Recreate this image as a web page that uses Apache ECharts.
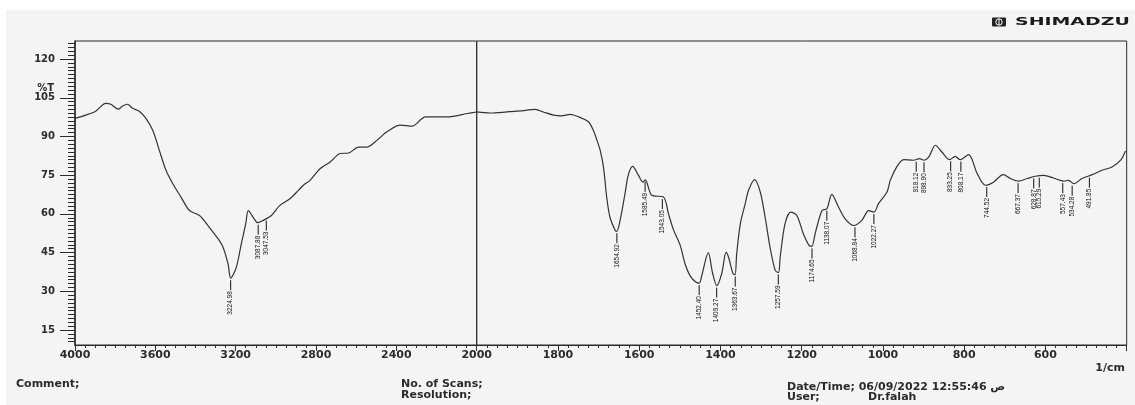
<!DOCTYPE html>
<html>
<head>
<meta charset="utf-8">
<script src="https://cdn.jsdelivr.net/npm/echarts@6/dist/echarts.min.js"></script>
<style>
html, body { margin: 0; padding: 0; background: #fff; }
#main { width: 1135px; height: 405px; }
</style>
</head>
<body>
<div id="main"></div>
<script>
// 4000-2000 1/cm (left half of the chart)
var leftSpectrum = [
    [4000, 97.0], [3947, 98.3], [3897, 99.8], [3847, 102.8], [3822, 102.5], [3785, 100.6],
    [3763, 101.8], [3739, 102.5], [3713, 100.9], [3680, 99.8], [3647, 97.0], [3613, 92.4],
    [3580, 84.6], [3547, 76.9], [3513, 71.7], [3472, 66.5], [3430, 61.3], [3380, 59.4],
    [3338, 55.5], [3288, 50.4], [3263, 47.1], [3238, 40.6], [3225, 35.1], [3197, 39.3],
    [3172, 48.4], [3150, 56.2], [3137, 61.3], [3113, 58.7], [3090, 56.6], [3063, 57.5],
    [3022, 59.4], [2980, 63.3], [2930, 65.9], [2888, 69.1], [2863, 71.1], [2830, 73.0],
    [2780, 77.5], [2730, 80.1], [2680, 83.4], [2638, 83.6], [2588, 85.9], [2547, 85.9],
    [2497, 88.5], [2447, 91.8], [2380, 94.4], [2322, 94.0], [2255, 97.6], [2147, 97.6],
    [2047, 98.9], [2000, 99.5]
];
// 2000-400 1/cm (right half, double scale)
var rightSpectrum = [
    [2000, 99.5], [1967, 99.1], [1926, 99.5], [1893, 99.9], [1856, 100.5], [1836, 99.5],
    [1811, 98.3], [1791, 98.0], [1770, 98.6], [1746, 97.4], [1725, 95.7], [1713, 92.4],
    [1704, 88.5], [1696, 84.6], [1688, 78.2], [1680, 66.5], [1672, 58.7], [1659, 53.6],
    [1655, 53.2], [1647, 57.5], [1635, 67.8], [1627, 75.0], [1616, 78.4], [1602, 75.0],
    [1591, 72.3], [1585, 73.2], [1569, 67.2], [1540, 66.5], [1528, 60.1], [1516, 54.0],
    [1499, 47.8], [1487, 40.6], [1475, 36.1], [1460, 33.5], [1452, 33.2], [1446, 36.1],
    [1430, 45.0], [1419, 36.8], [1409, 32.2], [1397, 36.8], [1386, 45.1], [1380, 43.2],
    [1369, 36.8], [1364, 36.5], [1360, 44.5], [1351, 56.2], [1339, 64.0], [1331, 69.1],
    [1316, 73.3], [1302, 68.5], [1290, 58.7], [1278, 47.1], [1265, 38.0], [1257, 37.3],
    [1253, 43.2], [1241, 56.2], [1227, 60.7], [1212, 59.4], [1196, 52.3], [1182, 47.8],
    [1175, 47.4], [1167, 52.3], [1150, 61.3], [1138, 62.0], [1126, 67.6], [1109, 62.6],
    [1093, 58.1], [1072, 55.5], [1052, 57.5], [1035, 61.3], [1022, 60.7], [1011, 64.0],
    [990, 68.5], [982, 73.0], [966, 78.2], [949, 81.0], [925, 80.8], [910, 81.4],
    [899, 80.8], [887, 82.1], [871, 86.6], [855, 84.0], [836, 81.0], [822, 82.3],
    [810, 81.0], [789, 83.0], [768, 75.6], [748, 71.1], [728, 72.3], [704, 75.2],
    [686, 73.7], [666, 72.7], [645, 73.7], [625, 74.6], [604, 74.9], [580, 73.9],
    [555, 72.7], [543, 73.0], [530, 71.7], [510, 73.7], [485, 75.2], [461, 76.9],
    [436, 78.2], [415, 80.8], [403, 84.4]
];
// peak picks: [wavenumber, %T on the curve]
var leftPeaks = [[3224.98, 35.1], [3087.88, 56.6], [3047.53, 58.2]];
var rightPeaks = [
    [1654.92, 53.3], [1585.49, 73.2], [1543.05, 66.5], [1452.40, 33.2], [1409.27, 32.2],
    [1363.67, 36.5], [1257.59, 37.3], [1174.65, 47.4], [1138.07, 62.0], [1068.84, 55.6],
    [1022.27, 60.7], [918.12, 81.0], [898.90, 80.8], [833.25, 81.2], [808.17, 81.0],
    [744.52, 71.2], [667.37, 72.7], [628.87, 74.5], [615.29, 74.8], [557.43, 72.7],
    [534.28, 71.7], [491.85, 74.8]
];
var yTicks = [15, 30, 45, 60, 75, 90, 105, 120];
var yMin = 9.2, yMax = 127;

var yMinor = [];
for (var v = 10.5; v < yMax; v += 1.5) {
    if (yTicks.indexOf(v) < 0) yMinor.push(v);
}

var myChart = echarts.init(document.getElementById('main'));
var ink = '#2b2b2b';
var font = '"DejaVu Sans", sans-serif';

function renderPeak(params, api) {
    var p = api.coord([api.value(0), api.value(1)]);
    var y0 = p[1] + 2, y1 = y0 + 10;
    return {
        type: 'group',
        children: [
            {type: 'line', shape: {x1: p[0], y1: y0, x2: p[0], y2: y1},
             style: {stroke: '#111', lineWidth: 1}},
            {type: 'text', x: p[0], y: y1 + 1, rotation: Math.PI / 2,
             style: {text: api.value(0).toFixed(2), fill: '#111',
                      font: '6.5px "Liberation Sans", sans-serif',
                      align: 'right', verticalAlign: 'middle'}}
        ]
    };
}

function xAxisFor(i, min, max, interval, showEnds) {
    return {
        type: 'value', gridIndex: i, min: min, max: max, interval: interval, inverse: true,
        axisLine: {show: true, onZero: false, lineStyle: {color: ink, width: 1}},
        axisTick: {show: true, length: 6, inside: false, lineStyle: {color: ink}},
        minorTick: {show: true, splitNumber: 8, length: 3, lineStyle: {color: ink}},
        splitLine: {show: false},
        axisLabel: {color: ink, fontFamily: font, fontWeight: 'bold', fontSize: 11, margin: 5,
                    showMinLabel: showEnds, showMaxLabel: showEnds,
                    formatter: function (val) { return String(val); }}
    };
}

var option = {
    backgroundColor: '#f4f4f4',
    animation: false,
    grid: [
        {left: 75, top: 41, width: 401.7, height: 304, show: true, borderColor: ink, borderWidth: 1, backgroundColor: 'transparent'},
        {left: 476.7, top: 41, width: 650, height: 304, show: true, borderColor: ink, borderWidth: 1, backgroundColor: 'transparent'}
    ],
    xAxis: [
        xAxisFor(0, 2000, 4000, 400, true),
        xAxisFor(1, 400, 2000, 200, false)
    ],
    yAxis: [
        {type: 'value', gridIndex: 0, min: yMin, max: yMax, position: 'left',
         axisLine: {show: true, lineStyle: {color: ink, width: 1.5}},
         axisTick: {show: true, length: 15, customValues: yTicks, lineStyle: {color: ink}},
         axisLabel: {customValues: yTicks, color: ink, fontFamily: font, fontWeight: 'bold', fontSize: 10, margin: 20},
         splitLine: {show: false}},
        {type: 'value', gridIndex: 0, min: yMin, max: yMax, position: 'left',
         axisLine: {show: false},
         axisTick: {show: true, length: 7, customValues: yMinor, lineStyle: {color: ink}},
         axisLabel: {show: false}, splitLine: {show: false}},
        {type: 'value', gridIndex: 1, min: yMin, max: yMax, show: false}
    ],
    series: [
        {type: 'line', xAxisIndex: 0, yAxisIndex: 0, data: leftSpectrum, symbol: 'none',
         smooth: 0.3, lineStyle: {color: '#333', width: 1.2}},
        {type: 'line', xAxisIndex: 1, yAxisIndex: 2, data: rightSpectrum, symbol: 'none',
         smooth: 0.3, lineStyle: {color: '#333', width: 1.2}},
        {type: 'custom', xAxisIndex: 0, yAxisIndex: 0, data: leftPeaks, renderItem: renderPeak,
         encode: {x: 0, y: 1}, z: 5},
        {type: 'custom', xAxisIndex: 1, yAxisIndex: 2, data: rightPeaks, renderItem: renderPeak,
         encode: {x: 0, y: 1}, z: 5}
    ],
    graphic: [
        {type: 'rect', shape: {x: 0, y: 0, width: 1135, height: 10}, style: {fill: '#fff'}, silent: true},
        {type: 'rect', shape: {x: 0, y: 0, width: 6, height: 405}, style: {fill: '#fff'}, silent: true},
        {type: 'text', x: 54, y: 88, style: {text: '%T', fill: ink, font: 'bold 10px ' + font, align: 'right', verticalAlign: 'middle'}},
        {type: 'text', x: 1125, y: 368, style: {text: '1/cm', fill: ink, font: 'bold 11px ' + font, align: 'right', verticalAlign: 'middle'}},
        // logo
        {type: 'rect', shape: {x: 992, y: 17.5, width: 14, height: 9, r: 1}, style: {fill: '#222'}},
        {type: 'circle', shape: {cx: 999, cy: 22, r: 3.2}, style: {fill: 'none', stroke: '#fff', lineWidth: 1}},
        {type: 'line', shape: {x1: 999, y1: 18.8, x2: 999, y2: 25.2}, style: {stroke: '#fff', lineWidth: 1}},
        {type: 'text', x: 1015, y: 22.5, scaleX: 1.72,
         style: {text: 'SHIMADZU', fill: '#1a1a1a', font: '900 11px ' + font, align: 'left', verticalAlign: 'middle'}},
        // footer
        {type: 'text', x: 16, y: 384, style: {text: 'Comment;', fill: ink, font: 'bold 11px ' + font, verticalAlign: 'middle'}},
        {type: 'text', x: 401, y: 384, style: {text: 'No. of Scans;', fill: ink, font: 'bold 11px ' + font, verticalAlign: 'middle'}},
        {type: 'text', x: 401, y: 395, style: {text: 'Resolution;', fill: ink, font: 'bold 11px ' + font, verticalAlign: 'middle'}},
        {type: 'text', x: 787, y: 387, style: {text: 'Date/Time; 06/09/2022 12:55:46 ص', fill: ink, font: 'bold 11px ' + font, verticalAlign: 'middle'}},
        {type: 'text', x: 787, y: 397.5, style: {text: 'User;', fill: ink, font: 'bold 11px ' + font, verticalAlign: 'middle'}},
        {type: 'text', x: 868, y: 397.5, style: {text: 'Dr.falah', fill: ink, font: 'bold 11px ' + font, verticalAlign: 'middle'}}
    ]
};
myChart.setOption(option);
</script>
</body>
</html>
